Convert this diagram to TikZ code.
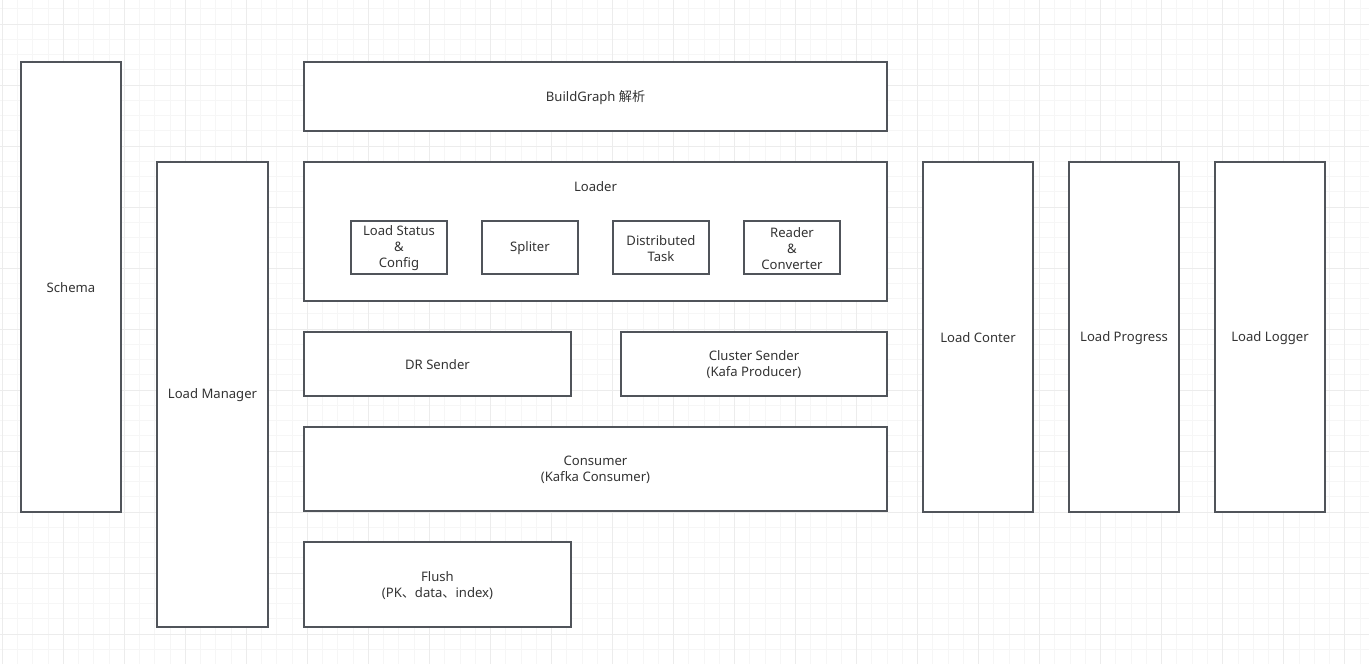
\documentclass[tikz,border=0pt]{standalone}
\usepackage{fontspec}
\setmainfont{Noto Sans}
\newfontfamily\cjk{Noto Sans CJK SC}
\definecolor{boxline}{HTML}{50545A}
\definecolor{txt}{HTML}{333333}
\definecolor{gridminor}{HTML}{F6F6F6}
\definecolor{gridmajor}{HTML}{ECECEC}
\begin{document}
\begin{tikzpicture}[x=1pt,y=-1pt,
  blk/.style={draw=boxline,line width=1.6pt,fill=white,inner sep=0pt},
  lbl/.style={font=\fontsize{13.1}{16}\selectfont,text=txt,align=center,inner sep=0pt}]
\useasboundingbox (0,0) rectangle (1369,664);
\fill[white] (0,0) rectangle (1369,664);
% grid
\foreach \i in {0,...,92} {
  \pgfmathsetmacro{\gx}{2.3-15.255+15.255*\i}
  \draw[gridminor,line width=0.9pt] (\gx,0) -- (\gx,664);
}
\foreach \i in {0,...,45} {
  \pgfmathsetmacro{\gy}{24-3*15.25+15.25*\i}
  \draw[gridminor,line width=0.9pt] (0,\gy) -- (1369,\gy);
}
\foreach \i in {0,...,23} {
  \pgfmathsetmacro{\gx}{2.3+61.02*\i}
  \draw[gridmajor,line width=1pt] (\gx,0) -- (\gx,664);
}
\foreach \i in {0,...,11} {
  \pgfmathsetmacro{\gy}{24+61*\i}
  \draw[gridmajor,line width=1pt] (0,\gy) -- (1369,\gy);
}
% boxes
\node[blk,minimum width=100pt,minimum height=450pt] (schema) at (71,287) {};
\node[lbl] at (71,288) {Schema};
\node[blk,minimum width=111pt,minimum height=465pt] (mgr) at (212.5,394.5) {};
\node[lbl] at (212.5,395.5) {Load Manager};
\node[blk,minimum width=583pt,minimum height=69pt] (build) at (595.5,96.5) {};
\node[lbl] at (595.5,97.5) {BuildGraph {\cjk 解析}};
\node[blk,minimum width=583pt,minimum height=139pt] (loader) at (595.5,231.5) {};
\node[lbl] (loaderlbl) at (595.5,187) {Loader};
\node[blk,minimum width=96pt,minimum height=53pt] (status) at (399,247.5) {};
\node[lbl] at (399,248.5) {Load Status\\\&\\Config};
\node[blk,minimum width=96pt,minimum height=53pt] (split) at (530,247.5) {};
\node[lbl] at (530,248.5) {Spliter};
\node[blk,minimum width=96pt,minimum height=53pt] (dist) at (661,247.5) {};
\node[lbl] at (661,248.5) {Distributed\\Task};
\node[blk,minimum width=96pt,minimum height=53pt] (reader) at (792,247.5) {};
\node[lbl] at (792,248.5) {Reader\\\&\\Converter};
\node[blk,minimum width=267pt,minimum height=64pt] (dr) at (437.5,364) {};
\node[lbl] at (437.5,365) {DR Sender};
\node[blk,minimum width=266pt,minimum height=64pt] (cluster) at (754,364) {};
\node[lbl] at (754,365) {Cluster Sender\\(Kafa Producer)};
\node[blk,minimum width=583pt,minimum height=84pt] (consumer) at (595.5,469) {};
\node[lbl] at (595.5,470) {Consumer\\(Kafka Consumer)};
\node[blk,minimum width=267pt,minimum height=85pt] (flush) at (437.5,584.5) {};
\node[lbl] at (437.5,585.5) {Flush\\(PK{\cjk 、}data{\cjk 、}index)};
\node[blk,minimum width=110pt,minimum height=350pt] (conter) at (978,337) {};
\node[lbl] at (978,338) {Load Conter};
\node[blk,minimum width=110pt,minimum height=350pt] (progress) at (1124,337) {};
\node[lbl] at (1124,338) {Load Progress};
\node[blk,minimum width=110pt,minimum height=350pt] (logger) at (1270,337) {};
\node[lbl] at (1270,338) {Load Logger};
\end{tikzpicture}
\end{document}
